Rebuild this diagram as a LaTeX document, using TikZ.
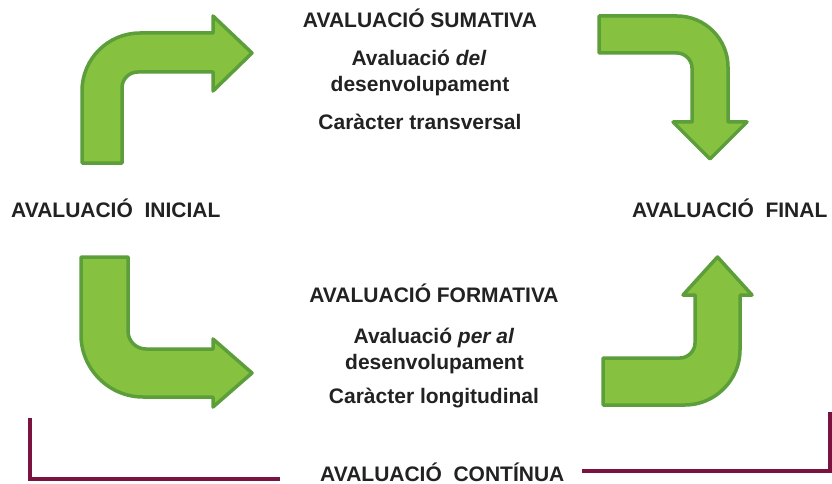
\documentclass[tikz,border=0pt]{standalone}
\usepackage{fontspec}
\setmainfont{Liberation Sans}
\definecolor{arrfill}{HTML}{86C240}
\definecolor{arrline}{HTML}{5C9E3A}
\definecolor{brkcol}{HTML}{7A1340}
\definecolor{txt}{HTML}{222222}
\begin{document}
\begin{tikzpicture}[x=1pt,y=-1pt,
  garrow/.style={fill=arrfill, draw=arrline, line width=3.5pt, line join=round},
  lbl/.style={anchor=base, inner sep=0pt, text=txt, font=\fontsize{21}{24}\selectfont\bfseries},
  brk/.style={draw=brkcol, line width=3.5pt, line join=miter}]
\useasboundingbox[fill=white] (0,0) rectangle (832,484);

% arrow 1: up then right
\path[garrow] (82,163) -- (82,91) .. controls (82,59) and (108,33) .. (140,33)
  -- (213,33) -- (213,16) -- (252,53) -- (213,91) -- (213,72) -- (138,72)
  .. controls (129,72) and (122,79) .. (122,88) -- (122,163) -- cycle;

% arrow 2: right then down
\path[garrow] (599,16) -- (677,16) .. controls (705,16) and (728,39) .. (728,67)
  -- (728,122) -- (747,122) -- (710,159) -- (673,122) -- (692,122) -- (692,68)
  .. controls (692,60) and (685,53) .. (677,53) -- (599,53) -- cycle;

% arrow 3: down then right
\path[garrow] (81,257) -- (128,257) -- (128,331) .. controls (128,341) and (136,349) .. (146,349)
  -- (213,349) -- (213,339) -- (252,373) -- (213,407) -- (213,397) -- (143,397)
  .. controls (109,397) and (81,369) .. (81,335) -- cycle;

% arrow 4: right then up
\path[garrow] (603,358) -- (680,358) .. controls (688,358) and (695,351) .. (695,343)
  -- (695,295) -- (683,295) -- (717.5,257) -- (752,295) -- (740,295) -- (740,350)
  .. controls (740,380) and (715,405) .. (685,405) -- (603,405) -- cycle;

% texts
\node[lbl] (sumh) at (420,28) {AVALUACIÓ SUMATIVA};
\node[lbl] (sum1) at (419,66) {Avaluació \textit{del}};
\node[lbl] (sum2) at (420,92) {desenvolupament};
\node[lbl] (sum3) at (420,130) {Caràcter transversal};

\node[lbl, anchor=base west] (ini) at (11,217) {AVALUACIÓ\ \ INICIAL};
\node[lbl, anchor=base west] (fin) at (632,217) {AVALUACIÓ\ \ FINAL};

\node[lbl] (forh) at (434,302) {AVALUACIÓ FORMATIVA};
\node[lbl] (for1) at (434,343) {Avaluació \textit{per al}};
\node[lbl] (for2) at (434.5,369) {desenvolupament};
\node[lbl] (for3) at (434,403) {Caràcter longitudinal};

\node[lbl, anchor=base west] (cont) at (320,481) {AVALUACIÓ\ \ CONTÍNUA};

% brackets
\coordinate (l1) at (30,418);
\coordinate (l2) at (30,479);
\coordinate (l3) at (280,479);
\coordinate (r1) at (582,471);
\coordinate (r2) at (830,471);
\coordinate (r3) at (830,412);
\draw[brk] (l1) -- (l2) -- (l3);
\draw[brk] (r1) -- (r2) -- (r3);
\end{tikzpicture}
\end{document}
